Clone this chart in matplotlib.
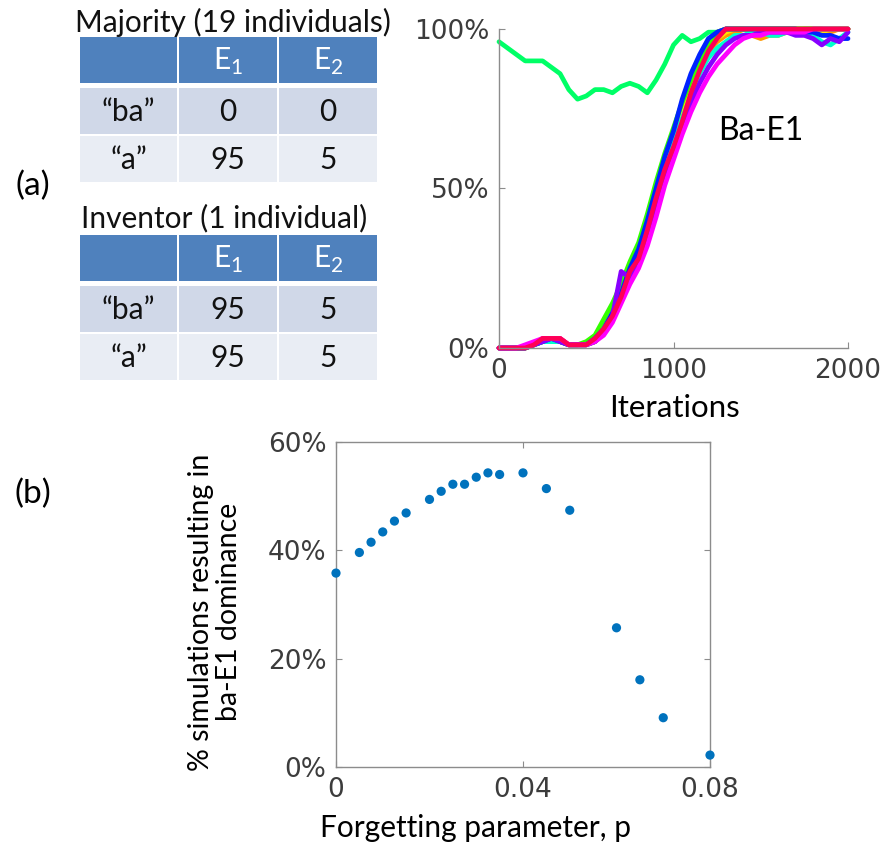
import matplotlib.pyplot as plt
from matplotlib.patches import Rectangle

plt.rcParams["mathtext.fontset"] = "custom"
plt.rcParams["mathtext.rm"] = "Lato"

# ---- panel (a): initial counts per individual ----
col_headers = ["E$_1$", "E$_2$"]
row_labels = ["\u201cba\u201d", "\u201ca\u201d"]
majority_title = "Majority (19 individuals)"
majority_counts = [[0, 0], [95, 5]]
inventor_title = "Inventor (1 individual)"
inventor_counts = [[95, 5], [95, 5]]

# ---- panel (a): share of ba-E1 (%) in each run, sampled every 50 iterations ----
iterations = list(range(0, 2001, 50))
run_red = [0, 0, 0, 0, 1, 3, 3, 3, 1, 1, 1, 2, 5, 10, 17, 25, 30, 39, 50, 59, 67,
           76, 85, 91, 96, 99, 100, 100, 100, 100, 100, 100, 100, 100, 100, 100,
           100, 100, 100, 100, 100]
run_orange = [0, 0, 0, 0, 1, 2, 3, 2, 1, 1, 1, 2, 5, 11, 17, 25, 30, 38, 48, 57, 65,
              73, 81, 88, 93, 96, 98, 99, 98, 98, 97, 98, 98, 99, 99, 100,
              100, 100, 99, 100, 100]
run_yellow = [0, 0, 0, 0, 1, 2, 3, 2, 1, 1, 1, 3, 6, 12, 18, 25, 31, 39, 49, 58, 66,
              74, 82, 89, 94, 97, 99, 100, 100, 99, 99, 100, 100, 100, 100, 100,
              99, 99, 100, 100, 100]
run_green = [0, 0, 0, 0, 1, 2, 2, 2, 1, 1, 2, 4, 9, 14, 20, 27, 33, 42, 52, 61, 69,
             77, 84, 90, 95, 98, 100, 100, 100, 100, 100, 100, 100, 100, 100, 100,
             100, 100, 100, 100, 100]
run_spring = [96, 94, 92, 90, 90, 90, 88, 86, 81, 78, 79, 81, 81, 80, 82, 83, 82, 80,
              84, 89, 95, 98, 96, 97, 99, 99, 100, 100, 100, 100, 100, 100, 100,
              100, 100, 100, 100, 100, 100, 100, 100]
run_cyan = [0, 0, 0, 0, 1, 2, 2, 2, 1, 1, 1, 2, 5, 9, 15, 22, 28, 37, 47, 56, 64,
            72, 79, 86, 91, 94, 96, 98, 98, 99, 99, 98, 98, 99, 99, 99,
            98, 96, 95, 97, 99]
run_blue = [0, 0, 0, 0, 1, 2, 3, 2, 1, 1, 1, 3, 6, 11, 17, 25, 31, 40, 50, 60, 68,
            78, 86, 92, 97, 99, 100, 100, 100, 100, 100, 100, 100, 100, 100, 99,
            99, 98, 98, 97, 97]
run_purple = [0, 0, 0, 0, 1, 2, 3, 2, 1, 1, 1, 2, 5, 10, 24, 22, 26, 35, 45, 54, 62,
              70, 77, 83, 88, 92, 95, 97, 98, 98, 99, 99, 99, 99, 98, 98,
              97, 95, 97, 96, 99]
run_magenta = [0, 0, 0, 1, 2, 3, 3, 3, 1, 1, 1, 2, 4, 8, 14, 20, 25, 32, 41, 51, 59,
               67, 74, 80, 85, 89, 92, 95, 97, 98, 98, 99, 99, 99, 99, 99,
               100, 100, 100, 100, 100]
run_pink = [0, 0, 0, 0, 1, 3, 3, 3, 1, 1, 1, 3, 6, 10, 16, 24, 28, 37, 47, 56, 63,
            71, 80, 87, 93, 97, 100, 100, 100, 100, 100, 100, 100, 100, 100, 100,
            100, 100, 100, 100, 100]

runs = [run_red, run_orange, run_yellow, run_green, run_spring, run_cyan,
        run_blue, run_purple, run_magenta, run_pink]
run_colors = ["#ff0000", "#ff9900", "#ffe600", "#33ff00", "#00ff66", "#00ffcc",
              "#0022ff", "#8800ff", "#ff00ff", "#ff0055"]

# ---- panel (b): outcome vs forgetting parameter ----
forgetting_p = [0, 0.005, 0.0075, 0.01, 0.0125, 0.015, 0.02, 0.0225, 0.025, 0.0275,
                0.03, 0.0325, 0.035, 0.04, 0.045, 0.05, 0.06, 0.065, 0.07, 0.08]
dominance_pct = [35.8, 39.6, 41.5, 43.4, 45.4, 46.9, 49.4, 50.9, 52.2, 52.2,
                 53.5, 54.3, 54.0, 54.3, 51.4, 47.4, 25.7, 16.1, 9.1, 2.2]

W, H = 885, 844
fig = plt.figure(figsize=(W / 100, H / 100), dpi=100)

TEXT_FONT = "Lato"
TICK_FONT = "DejaVu Sans"
TICK_COLOR = "#3c3c3c"
SPINE_COLOR = "#8c8c8c"
TEXT_SIZE = 21.5

# overlay in pixel units for the tables and panel letters
canvas = fig.add_axes([0, 0, 1, 1], zorder=0)
canvas.set_xlim(0, W)
canvas.set_ylim(H, 0)
canvas.axis("off")


def draw_table(ax, title, title_x, title_y, top, counts):
    edges = [79, 178, 278, 378]
    header_h, gap, row_h = 46, 5, 48
    ax.text(title_x, title_y, title, ha="center", va="center",
            fontsize=TEXT_SIZE, family=TEXT_FONT, color="#111111")
    for j in range(3):
        ax.add_patch(Rectangle((edges[j] + 1, top), edges[j + 1] - edges[j] - 2, header_h,
                               facecolor="#4f81bd", edgecolor="none"))
        if j > 0:
            ax.text((edges[j] + edges[j + 1]) / 2, top + header_h / 2 + 1, col_headers[j - 1],
                    ha="center", va="center", fontsize=TEXT_SIZE, family=TEXT_FONT,
                    color="white")
    row_fills = ["#d0d8e8", "#e9edf4"]
    for i, row in enumerate(counts):
        y0 = top + header_h + gap + i * row_h
        cells = [row_labels[i]] + [str(v) for v in row]
        for j in range(3):
            ax.add_patch(Rectangle((edges[j] + 1, y0), edges[j + 1] - edges[j] - 2, row_h - 2,
                                   facecolor=row_fills[i], edgecolor="none"))
            ax.text((edges[j] + edges[j + 1]) / 2, y0 + row_h / 2, cells[j],
                    ha="center", va="center", fontsize=TEXT_SIZE, family=TEXT_FONT,
                    color="#111111")


draw_table(canvas, majority_title, 233, 22, 37, majority_counts)
draw_table(canvas, inventor_title, 224, 218, 235, inventor_counts)
canvas.text(33, 186, "(a)", ha="center", va="center", fontsize=24, family=TEXT_FONT)
canvas.text(33, 494, "(b)", ha="center", va="center", fontsize=24, family=TEXT_FONT)


def style_axes(ax):
    for s in ax.spines.values():
        s.set_color(SPINE_COLOR)
        s.set_linewidth(1.0)
    ax.tick_params(direction="in", length=4, width=0.8, color=SPINE_COLOR,
                   labelsize=19, labelcolor=TICK_COLOR, pad=7)
    for lab in ax.get_xticklabels() + ax.get_yticklabels():
        lab.set_family(TICK_FONT)


# time course of ba-E1 in each run
ax1 = fig.add_axes([499 / W, 1 - 348 / H, 349 / W, 319 / H], zorder=2)
ax1.patch.set_alpha(0)
for vals, c in zip(runs, run_colors):
    ax1.plot(iterations, vals, color=c, lw=3.4, clip_on=False,
             solid_joinstyle="round", solid_capstyle="round")
ax1.set_xlim(0, 2000)
ax1.set_ylim(0, 100)
ax1.set_xticks([0, 1000, 2000])
ax1.set_yticks([0, 50, 100])
ax1.set_yticklabels(["0%", "50%", "100%"])
ax1.spines["top"].set_visible(False)
ax1.spines["right"].set_visible(False)
style_axes(ax1)
ax1.text(1500, 68, "Ba-E1", ha="center", va="center", fontsize=23, family=TEXT_FONT)
fig.text(675 / W, 1 - 408 / H, "Iterations", ha="center", va="center",
         fontsize=TEXT_SIZE + 1, family=TEXT_FONT)

# fraction of simulations ending in ba-E1 dominance
ax2 = fig.add_axes([336 / W, 1 - 767 / H, 374 / W, 325 / H], zorder=2)
ax2.scatter(forgetting_p, dominance_pct, s=44, color="#0072bd", edgecolors="none",
            clip_on=False, zorder=3)
ax2.set_xlim(0, 0.08)
ax2.set_ylim(0, 60)
ax2.set_xticks([0, 0.04, 0.08])
ax2.set_xticklabels(["0", "0.04", "0.08"])
ax2.set_yticks([0, 20, 40, 60])
ax2.set_yticklabels(["0%", "20%", "40%", "60%"])
ax2.tick_params(top=True, right=True)
style_axes(ax2)
fig.text(475 / W, 1 - 828 / H, "Forgetting parameter, p", ha="center", va="center",
         fontsize=TEXT_SIZE, family=TEXT_FONT)
fig.text(215 / W, 1 - 612 / H, "% simulations resulting in\nba-E1 dominance",
         rotation=90, ha="center", va="center", multialignment="center",
         fontsize=20.5, family=TEXT_FONT, linespacing=1.05)

fig.savefig("out.png", dpi=100)
